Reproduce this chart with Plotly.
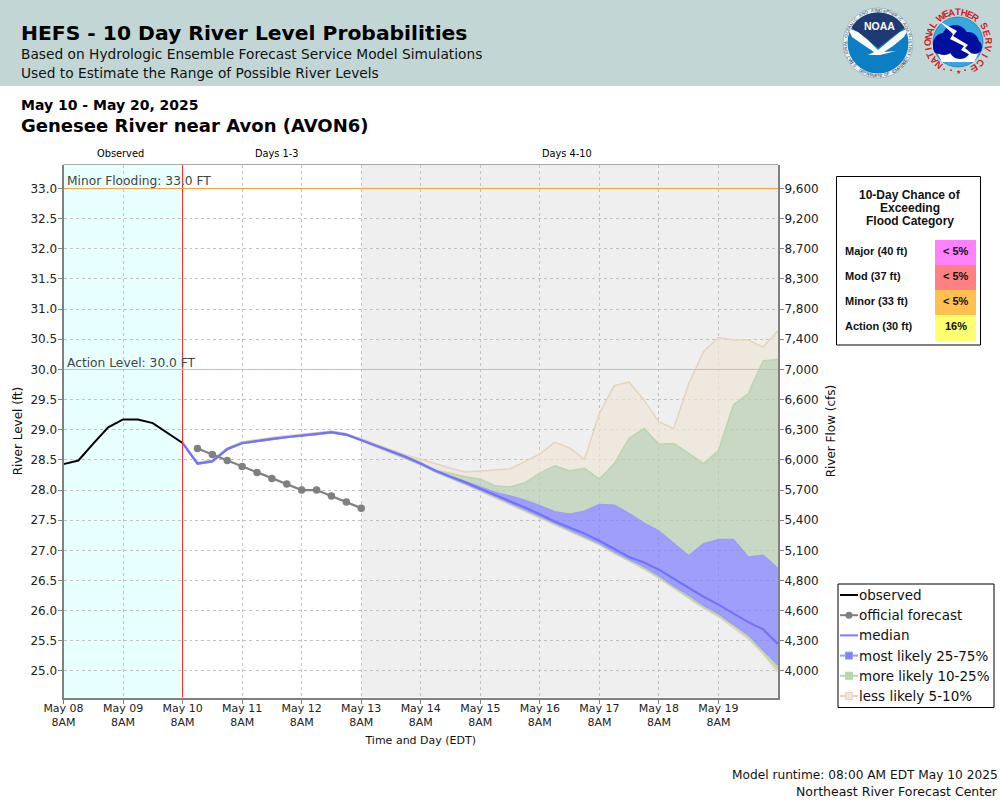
import math
import pandas as pd
import plotly.graph_objects as go

# ---------- data ----------
observed = [28.43, 28.49, 28.77, 29.04, 29.17, 29.17, 29.11, 28.94, 28.78]
official = [28.69, 28.59, 28.49, 28.39, 28.29, 28.19, 28.10, 28.00, 28.00, 27.90, 27.80, 27.70]
median = [28.78, 28.44, 28.48, 28.68, 28.78, 28.82, 28.85, 28.88, 28.90, 28.93, 28.96, 28.92, 28.83,
          28.74, 28.65, 28.55, 28.44, 28.32, 28.22, 28.13, 28.02, 27.92, 27.82, 27.71, 27.60, 27.48,
          27.38, 27.28, 27.16, 27.03, 26.89, 26.80, 26.68, 26.53, 26.38, 26.23, 26.10, 25.96, 25.81, 25.69, 25.45]
p75 = [28.78, 28.45, 28.49, 28.69, 28.79, 28.83, 28.86, 28.89, 28.91, 28.94, 28.97, 28.93, 28.84,
       28.75, 28.66, 28.56, 28.45, 28.33, 28.23, 28.14, 28.06, 27.96, 27.90, 27.83, 27.74, 27.64,
       27.60, 27.65, 27.76, 27.75, 27.61, 27.45, 27.32, 27.12, 26.91, 27.11, 27.18, 27.18, 26.89, 26.92, 26.70]
p90 = [28.78, 28.45, 28.49, 28.69, 28.79, 28.83, 28.86, 28.89, 28.91, 28.94, 28.97, 28.93, 28.84,
       28.75, 28.66, 28.56, 28.46, 28.33, 28.28, 28.22, 28.18, 28.07, 28.05, 28.12, 28.28, 28.40,
       28.32, 28.36, 28.18, 28.44, 28.86, 29.02, 28.76, 28.77, 28.61, 28.44, 28.66, 29.41, 29.60, 30.14, 30.17]
p95 = [28.78, 28.46, 28.50, 28.70, 28.80, 28.84, 28.87, 28.90, 28.92, 28.95, 28.98, 28.94, 28.85,
       28.76, 28.67, 28.58, 28.51, 28.43, 28.36, 28.30, 28.32, 28.33, 28.35, 28.47, 28.60, 28.79,
       28.70, 28.51, 29.27, 29.73, 29.79, 29.49, 29.13, 29.02, 29.76, 30.30, 30.53, 30.49, 30.49, 30.37, 30.64]
p25 = [28.78, 28.43, 28.47, 28.67, 28.77, 28.81, 28.84, 28.87, 28.89, 28.92, 28.95, 28.91, 28.82,
       28.73, 28.64, 28.54, 28.43, 28.31, 28.21, 28.11, 28.00, 27.90, 27.79, 27.68, 27.57, 27.46,
       27.35, 27.24, 27.12, 26.98, 26.85, 26.73, 26.58, 26.41, 26.26, 26.09, 25.95, 25.78, 25.60, 25.35, 25.10]
p10 = [28.78, 28.43, 28.47, 28.67, 28.77, 28.81, 28.84, 28.87, 28.89, 28.92, 28.95, 28.91, 28.82,
       28.72, 28.63, 28.53, 28.42, 28.30, 28.20, 28.10, 27.99, 27.88, 27.77, 27.66, 27.55, 27.44,
       27.33, 27.22, 27.10, 26.96, 26.83, 26.70, 26.55, 26.39, 26.23, 26.06, 25.92, 25.75, 25.56, 25.31, 25.03]
p5 = [28.78, 28.43, 28.47, 28.67, 28.77, 28.81, 28.84, 28.87, 28.89, 28.92, 28.95, 28.91, 28.82,
      28.72, 28.63, 28.53, 28.42, 28.30, 28.20, 28.10, 27.98, 27.87, 27.76, 27.65, 27.54, 27.43,
      27.32, 27.21, 27.09, 26.95, 26.82, 26.69, 26.54, 26.37, 26.21, 26.04, 25.90, 25.72, 25.53, 25.28, 24.98]

level_ticks = [25.0, 25.5, 26.0, 26.5, 27.0, 27.5, 28.0, 28.5, 29.0, 29.5, 30.0, 30.5, 31.0, 31.5, 32.0, 32.5, 33.0]
flow_labels = ["4,000", "4,300", "4,600", "4,800", "5,100", "5,400", "5,700", "6,000", "6,300", "6,600",
               "7,000", "7,400", "7,800", "8,300", "8,700", "9,200", "9,600"]
day_labels = ["May 08", "May 09", "May 10", "May 11", "May 12", "May 13",
              "May 14", "May 15", "May 16", "May 17", "May 18", "May 19"]
category_names = ["Major (40 ft)", "Mod (37 ft)", "Minor (33 ft)", "Action (30 ft)"]
category_chances = ["< 5%", "< 5%", "< 5%", "16%"]
category_colors = ["#ff80ff", "#ff8080", "#ffc050", "#ffff70"]

# ---------- helpers ----------
PX = lambda x: x / 1000
PY = lambda y: 1 - y / 800
DJ = "DejaVu Sans"
LB = "Liberation Sans"

shapes, notes = [], []


def text(x, y, s, size, color="#000", family=DJ, bold=False, anchor="left", angle=0):
    notes.append(dict(xref="paper", yref="paper", x=PX(x), y=PY(y), text=f"<b>{s}</b>" if bold else s,
                      showarrow=False, xanchor=anchor, yanchor="middle", textangle=angle,
                      font=dict(size=size, color=color, family=family), borderpad=0, borderwidth=0))


def rect(x0, y0, x1, y1, fill=None, line=None, lw=1, layer="above"):
    shapes.append(dict(type="rect", xref="paper", yref="paper", x0=PX(x0), x1=PX(x1), y0=PY(y0), y1=PY(y1),
                       fillcolor=fill or "rgba(0,0,0,0)", line=dict(color=line or "rgba(0,0,0,0)", width=lw if line else 0),
                       layer=layer))


def circle(cx, cy, r, fill, line=None, lw=1):
    shapes.append(dict(type="circle", xref="paper", yref="paper", x0=PX(cx - r), x1=PX(cx + r), y0=PY(cy + r), y1=PY(cy - r),
                       fillcolor=fill, line=dict(color=line or fill, width=lw if line else 0), layer="above"))


def poly(pts, fill):
    d = "M" + "L".join(f"{PX(a):.5f},{PY(b):.5f}" for a, b in pts) + "Z"
    shapes.append(dict(type="path", xref="paper", yref="paper", path=d, fillcolor=fill, line=dict(width=0), layer="above"))


def hline(x0, x1, y, color, lw):
    shapes.append(dict(type="line", xref="paper", yref="paper", x0=PX(x0), x1=PX(x1), y0=PY(y), y1=PY(y),
                       line=dict(color=color, width=lw), layer="above"))


def ring_text(cx, cy, r, s, start, step, size, color, bold=True, flip=False):
    for i, ch in enumerate(s):
        a = start + i * step
        if ch == " ":
            continue
        rad = math.radians(a)
        text(cx + r * math.sin(rad), cy - r * math.cos(rad), ch, size, color, LB, bold, "center",
             angle=a + 180 if flip else a)


# ---------- page furniture ----------
rect(0, 0, 1000, 86, "#c2d7d5", layer="below")
text(21, 33, "HEFS - 10 Day River Level Probabilities", 20.3, "#000", DJ, True)
text(21, 54, "Based on Hydrologic Ensemble Forecast Service Model Simulations", 13.75, "#111")
text(21, 73, "Used to Estimate the Range of Possible River Levels", 13.75, "#111")
text(21, 105, "May 10 - May 20, 2025", 14, "#000", DJ, True)
text(21, 126, "Genesee River near Avon (AVON6)", 18.05, "#000", DJ, True)
text(120, 153.5, "Observed", 9.8, anchor="center")
text(276.5, 153.5, "Days 1-3", 9.8, anchor="center")
text(566.5, 153.5, "Days 4-10", 9.8, anchor="center")
text(998, 775, "Model runtime: 08:00 AM EDT May 10 2025", 12.18, "#111", anchor="right")
text(998, 791, "Northeast River Forecast Center", 12.5, "#111", anchor="right")
text(67, 181.5, "Minor Flooding: 33.0 FT", 12.25, "#444")
text(67, 362.5, "Action Level: 30.0 FT", 12.25, "#444")

# ---------- NOAA logo ----------
cx, cy = 878, 43
circle(cx, cy, 35, "#e9efef", "#8fa0a8", 0.6)
ring_text(cx, cy, 32.6, "NATIONAL OCEANIC AND ATMOSPHERIC ADMINISTRATION", -126, 5.5, 4.4, "#33455f", False)
ring_text(cx, cy, 32.6, "U.S. DEPARTMENT OF COMMERCE", 234, -4.3, 4.4, "#33455f", False, flip=True)
circle(cx, cy, 30.5, "#0c7fc4")
arc = [(cx + 30.5 * math.sin(math.radians(a)), cy - 30.5 * math.cos(math.radians(a))) for a in range(-60, 61, 6)]
poly([(cx, cy + 5)] + arc, "#1f3a72")
poly([(848, 28), (858, 32), (868, 40), (878, 50), (890, 40), (900, 32), (909, 28), (904, 37), (893, 46),
      (884, 52), (896, 51), (880, 55), (868, 55), (874, 52), (862, 44), (852, 37)], "#ffffff")
text(cx + 1, 26, "NOAA", 10.5, "#fff", LB, True, "center")

# ---------- NWS logo ----------
cx, cy = 958, 42
ring_text(cx, cy, 30.5, "NATIONAL", -139, 12, 9.5, "#cf2027")
ring_text(cx, cy, 30.5, "WEATHER", -35, 11.7, 9.5, "#cf2027")
ring_text(cx, cy, 30.5, "SERVICE", 58, 15, 9.5, "#cf2027")
circle(cx, cy, 25, "#35a8dd", "#1d5fa8", 0.6)
poly([(cx - 22, cy + 8), (cx + 22, cy + 8), (cx + 16, cy + 20), (cx - 16, cy + 20)], "#ffffff")
for ox, oy, r in [(-14, 2, 11), (-3, -4, 13), (10, 1, 11), (17, 5, 7), (-19, 6, 6), (2, 6, 11)]:
    circle(cx + ox, cy + oy, r, "#000f9f")
poly([(939, 21), (957, 31), (953, 36), (968, 45), (965, 48), (978, 59), (961, 50), (964, 46), (950, 39), (953, 34)], "#ffffff")
for ox in (-14, -7, 7, 14):
    circle(cx + ox, 71 - abs(ox) * 0.12, 0.9, "#cf2027")
text(cx, 71.5, "★", 6, "#cf2027", DJ, False, "center")

# ---------- flood category table ----------
rect(836.5, 176.5, 980.5, 345, "#fff", "#000", 1)
text(910, 195, "10-Day Chance of", 12, "#111", LB, True, "center")
text(910, 208, "Exceeding", 12, "#111", LB, True, "center")
text(910, 221, "Flood Category", 12, "#111", LB, True, "center")
for i, (name, chance, colr) in enumerate(zip(category_names, category_chances, category_colors)):
    rect(935, 240 + 25 * i, 976, 265 + 25 * i + (1 if i == 3 else 0), colr)
    text(845, 251 + 25 * i, name, 11, "#111", LB, True)
    text(956, 251 + 25 * i, chance, 11, "#111", LB, True, "center")

# ---------- legend ----------
rect(838, 584, 994, 707.5, "#fff", "#000", 1)
legend_rows = [("observed", "#000000", None, None), ("official forecast", "#808080", "circle", "#808080"),
               ("median", "#7a7aff", None, None), ("most likely 25-75%", "#9a9cfc", "sq", "#7f82f8"),
               ("more likely 10-25%", "#b7d6ab", "sq", "#b7d6ab"), ("less likely 5-10%", "#e5d2bc", "sq", "#efe7de")]
for i, (label, colr, mark, mcol) in enumerate(legend_rows):
    y = 595 + 20.2 * i
    hline(840, 858, y, colr, 2)
    if mark == "circle":
        circle(849, y, 3.5, mcol)
    elif mark == "sq":
        rect(845.5, y - 3.5, 852.5, y + 3.5, mcol, colr, 1)
    text(859, y, label, 13.5, "#111")

# ---------- chart ----------
start = pd.Timestamp("2025-05-08 08:00")
end = pd.Timestamp("2025-05-20 08:00")
now = pd.Timestamp("2025-05-10 08:00")
t_obs = pd.date_range(start, periods=len(observed), freq="6h")
t_off = pd.date_range(now + pd.Timedelta(hours=6), periods=len(official), freq="6h")
t_fc = pd.date_range(now, periods=len(median), freq="6h")
day_ticks = pd.date_range(start, periods=len(day_labels), freq="24h")

TAN_F, TAN_L = "rgba(239,228,215,0.72)", "#e6d3bd"
GRN_F, GRN_L = "rgba(185,206,176,0.72)", "#b9d6ad"
BLU_F, BLU_L = "rgba(128,128,255,0.72)", "#9a9cf6"

fig = go.Figure()
for name, vals, fill, line in [("less likely 5-10% low", p5, None, TAN_L),
                               ("less likely 5-10%", p10, TAN_F, GRN_L),
                               ("more likely 10-25%", p25, GRN_F, BLU_L),
                               ("most likely 25-75%", p75, BLU_F, BLU_L),
                               ("more likely 10-25% high", p90, GRN_F, GRN_L),
                               ("less likely 5-10% high", p95, TAN_F, TAN_L)]:
    fig.add_trace(go.Scatter(x=t_fc, y=vals, mode="lines", name=name, line=dict(color=line, width=1.5),
                             fill="tonexty" if fill else None, fillcolor=fill, showlegend=False))
fig.add_trace(go.Scatter(x=t_fc, y=median, mode="lines", name="median", line=dict(color="#7272ff", width=2.2), showlegend=False))
fig.add_trace(go.Scatter(x=t_off, y=official, mode="lines+markers", name="official forecast",
                         line=dict(color="#808080", width=2.2), marker=dict(size=7.5, color="#808080"), showlegend=False))
fig.add_trace(go.Scatter(x=t_obs, y=observed, mode="lines", name="observed", line=dict(color="#000", width=2), showlegend=False))
fig.add_trace(go.Scatter(x=[start] * len(level_ticks), y=level_ticks, mode="lines", yaxis="y2", opacity=0,
                         showlegend=False, hoverinfo="skip"))

for x0, x1, c in [(start, now, "#e8ffff"), (pd.Timestamp("2025-05-13 08:00"), end, "#efefef")]:
    shapes.append(dict(type="rect", xref="x", yref="paper", x0=x0, x1=x1, y0=PY(697.5), y1=PY(164.5),
                       fillcolor=c, line=dict(width=0), layer="below"))
shapes.append(dict(type="line", xref="x", yref="paper", x0=now, x1=now, y0=PY(697.5), y1=PY(164.5),
                   line=dict(color="#ff2020", width=1), layer="above"))
shapes.append(dict(type="line", xref="x", yref="y", x0=start, x1=end, y0=33, y1=33,
                   line=dict(color="#ffa040", width=1), layer="above"))
shapes.append(dict(type="line", xref="x", yref="y", x0=start, x1=end, y0=30, y1=30,
                   line=dict(color="#c0c0c0", width=1), layer="above"))

y_range = [33 - (697.5 - 188.5) / 60.31, 33 + (188.5 - 164.5) / 60.31]
grid = dict(showgrid=True, gridcolor="#c2c2c2", gridwidth=1, griddash="3px,3px")
axis_common = dict(showline=True, linecolor="#808080", linewidth=2, ticks="outside", ticklen=4, tickcolor="#808080",
                   zeroline=False, automargin=False, ticklabelstandoff=-2, tickfont=dict(family=DJ, size=12, color="#222"))

fig.update_layout(
    width=1000, height=800, autosize=False, margin=dict(l=0, r=0, t=0, b=0, pad=0, autoexpand=False),
    paper_bgcolor="#fff", plot_bgcolor="#fff", showlegend=False, shapes=shapes, annotations=notes,
    xaxis=dict(domain=[PX(63.5), PX(778)], range=[start, end], type="date", tickmode="array",
               tickvals=list(day_ticks), ticktext=[f"{d}<br>8AM" for d in day_labels], tickangle=0,
               title=dict(text="Time and Day (EDT)", font=dict(family=DJ, size=11, color="#111"), standoff=8),
               **grid, **{**axis_common, "tickfont": dict(family=DJ, size=11, color="#222"), "ticklabelstandoff": -5}),
    yaxis=dict(domain=[PY(697.5), PY(164.5)], range=y_range, tickmode="array", tickvals=level_ticks,
               ticktext=[f"{v:.1f}" for v in level_ticks],
               title=dict(text="River Level (ft)", font=dict(family=DJ, size=12, color="#111"), standoff=5),
               **grid, **axis_common),
    yaxis2=dict(domain=[PY(697.5), PY(164.5)], range=y_range, overlaying="y", side="right", anchor="x",
                tickmode="array", tickvals=level_ticks, ticktext=flow_labels, showgrid=False,
                title=dict(text="River Flow (cfs)", font=dict(family=DJ, size=12, color="#111"), standoff=9),
                **axis_common),
)
# top border of the plot frame
fig.add_shape(type="line", xref="paper", yref="paper", x0=PX(63.5), x1=PX(778), y0=PY(164.5), y1=PY(164.5),
              line=dict(color="#a8a8a8", width=1), layer="above")

fig.write_html("out.html", post_script="document.body.style.margin='0';", config=dict(displayModeBar=False))
